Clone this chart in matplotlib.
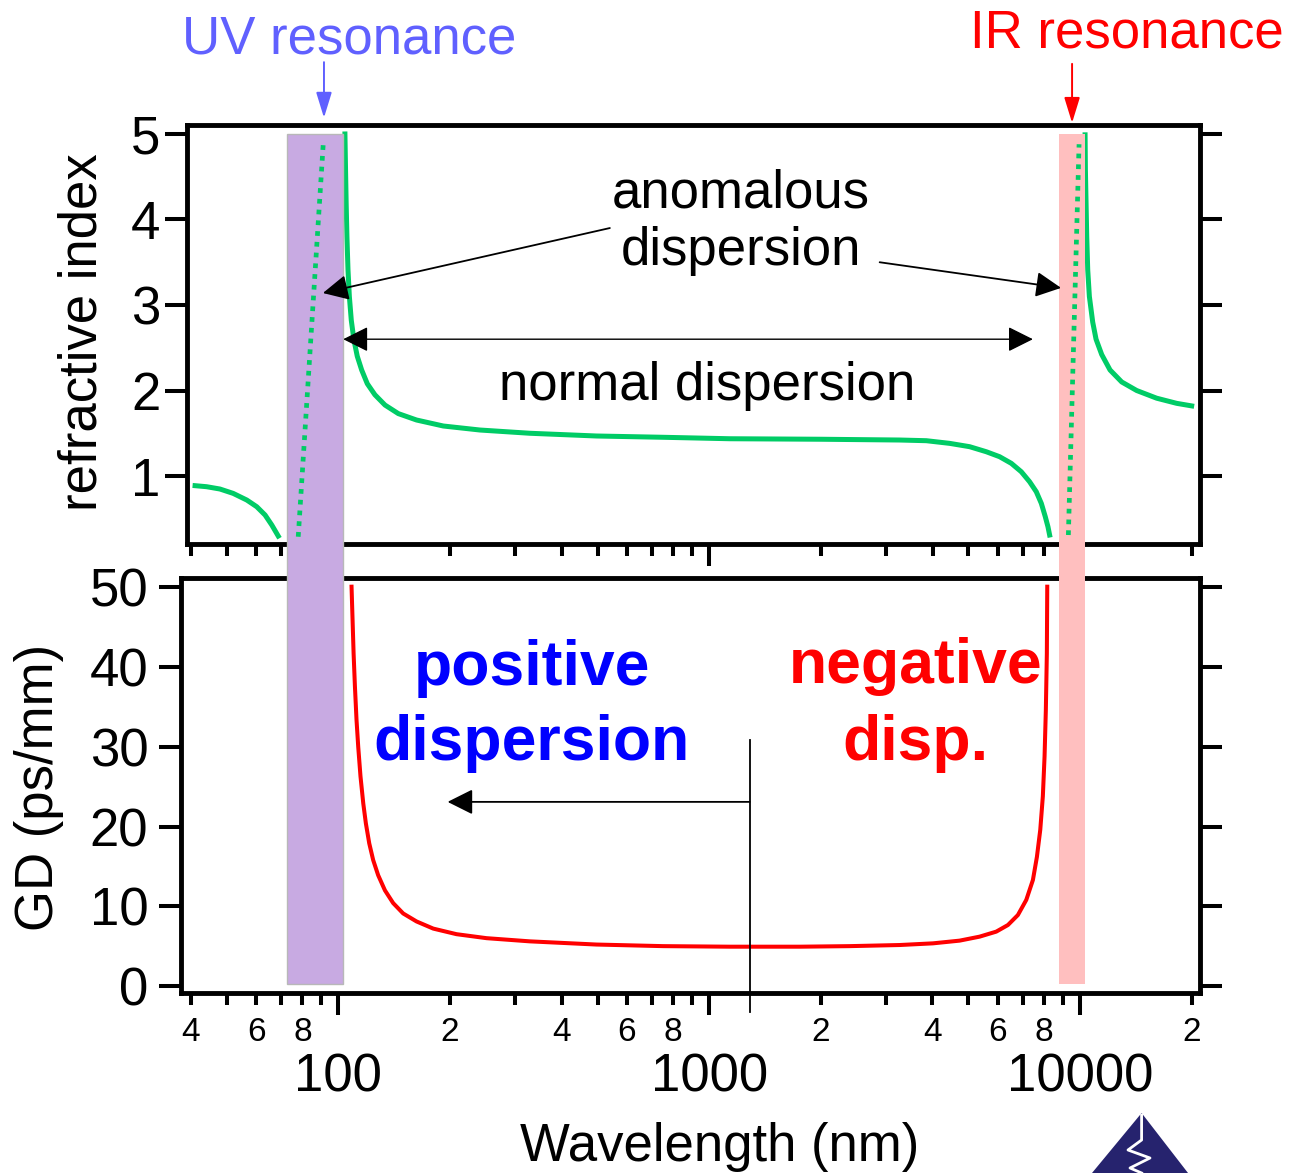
import math
import matplotlib
matplotlib.use('Agg')
import matplotlib.pyplot as plt
from matplotlib.patches import Rectangle, Polygon
from matplotlib.transforms import blended_transform_factory
from matplotlib.ticker import LogLocator, FuncFormatter, NullFormatter, FixedLocator

plt.rcParams['font.family'] = ['Liberation Sans', 'DejaVu Sans']

# ---------------- data ----------------
# refractive index, short-wavelength side of the UV resonance
n_left_wl = [41.05, 44.1, 47.9, 52.0, 56.6, 60.2, 63.4, 66.1, 68.8]
n_left = [0.887, 0.875, 0.848, 0.797, 0.719, 0.641, 0.544, 0.427, 0.298]
# refractive index between the resonances
n_mid_wl = [104.1, 104.5, 104.9, 105.4, 106.1, 107.0, 108.3, 110.1, 112.4, 115.5,
            119.6, 125.4, 133.5, 145.0, 162.4, 191.7, 240.7, 328.2, 496.6, 751,
            1136, 2000, 3262, 3850, 4448, 5037, 5586, 6067, 6526, 6942, 7310,
            7620, 7862, 8058, 8192, 8278]
n_mid = [5.0, 4.58, 4.19, 3.80, 3.41, 3.10, 2.82, 2.59, 2.40, 2.24,
         2.08, 1.95, 1.83, 1.73, 1.655, 1.585, 1.538, 1.50, 1.468, 1.453,
         1.436, 1.43, 1.421, 1.413, 1.382, 1.343, 1.284, 1.226, 1.148, 1.05, 0.933,
         0.816, 0.68, 0.524, 0.407, 0.31]
# refractive index, long-wavelength side of the IR resonance
n_right_wl = [10316, 10337, 10380, 10423, 10488, 10595, 10817, 11044, 11440, 12046,
              12951, 14212, 16093, 18220, 20000]
n_right = [4.99, 4.58, 4.19, 3.80, 3.41, 3.10, 2.80, 2.60, 2.42, 2.24,
           2.10, 2.0, 1.91, 1.85, 1.82]
# anomalous dispersion (dotted) inside the resonances
uv_anom_wl = [77.9, 91.0]
uv_anom_n = [0.29, 4.89]
ir_anom_wl = [9300, 9938]
ir_anom_n = [0.31, 4.88]
# group delay
gd_wl = [108.5, 109.2, 109.9, 110.8, 111.9, 113.1, 114.7, 116.7, 118.6, 121.1,
         124.1, 128.0, 133.5, 140.5, 149.5, 162.4, 180.2, 208.2, 250.8, 328.2,
         496.6, 750.9, 1136, 1754, 2391, 3262, 4012, 4733, 5359, 5943, 6390,
         6797, 7161, 7462, 7650, 7811, 7937, 8022, 8086, 8137, 8157]
gd = [50.1, 45.9, 41.7, 37.6, 33.4, 30.0, 26.3, 22.9, 20.4, 17.9,
      15.8, 13.9, 12.0, 10.4, 9.1, 8.1, 7.2, 6.5, 6.0, 5.6,
      5.2, 5.0, 4.93, 4.93, 5.0, 5.14, 5.35, 5.69, 6.19, 6.82, 7.65,
      8.9, 10.8, 13.3, 16.2, 19.6, 23.8, 28.8, 34.6, 41.7, 50.1]
# resonance bands (nm)
uv_band = [72.5, 102.6]
ir_band = [8794, 10315]
zero_disp_wl = 1286

n_ticks = [1, 2, 3, 4, 5]
gd_ticks = [0, 10, 20, 30, 40, 50]

# ---------------- styling ----------------
GREEN = '#00cc66'
RED = '#ff0000'
BIG = 38
W, H = 1304, 1173
fig = plt.figure(figsize=(W / 100, H / 100), dpi=100)


def frac(l, t, r, b):
    return [l / W, 1 - b / H, (r - l) / W, (b - t) / H]


ax1 = fig.add_axes(frac(186.7, 125, 1200, 544))
ax2 = fig.add_axes(frac(181, 578, 1200, 993))
ax1.set_zorder(1)

for ax in (ax1, ax2):
    ax.set_xscale('log')
    for s in ax.spines.values():
        s.set_linewidth(3.5)
    ax.xaxis.set_major_locator(LogLocator(base=10))
    ax.xaxis.set_minor_locator(LogLocator(base=10, subs=range(2, 10)))

ax1.set_xlim(38.97, 21060)
ax1.set_ylim(0.205, 5.105)
ax2.set_xlim(37.63, 21060)
ax2.set_ylim(-0.88, 51.19)

ax1.yaxis.set_major_locator(FixedLocator(n_ticks))
ax2.yaxis.set_major_locator(FixedLocator(gd_ticks))

ax1.tick_params(axis='y', which='major', direction='out', length=15.5, width=2.9,
                left=True, right=True, labelsize=BIG, pad=3.6)
ax2.tick_params(axis='y', which='major', direction='out', length=15.5, width=2.9,
                left=True, right=True, labelsize=BIG, pad=8)
for ax in (ax1, ax2):
    ax.tick_params(axis='x', which='both', direction='out', bottom=True, top=False, width=2.9)
    ax.tick_params(axis='x', which='major', length=15.5)
    ax.tick_params(axis='x', which='minor', length=8.6)
ax1.tick_params(axis='x', which='both', labelbottom=False)
ax2.tick_params(axis='x', which='major', labelsize=BIG, pad=27)
ax2.tick_params(axis='x', which='minor', labelsize=24, pad=9)


def major_fmt(v, pos):
    return '%d' % round(v)


def minor_fmt(v, pos):
    d = int(round(v / 10 ** math.floor(math.log10(v) + 1e-9)))
    return str(d) if d in (2, 4, 6, 8) else ''


ax2.xaxis.set_major_formatter(FuncFormatter(major_fmt))
ax2.xaxis.set_minor_formatter(FuncFormatter(minor_fmt))
ax1.xaxis.set_major_formatter(NullFormatter())
ax1.xaxis.set_minor_formatter(NullFormatter())

# ---------------- resonance bands spanning both panels ----------------
to_fig = fig.transFigure.inverted()
y_top = to_fig.transform(ax1.transData.transform((100, 5.0)))[1]
y_bot = to_fig.transform(ax2.transData.transform((100, 0.2)))[1]
btrans = blended_transform_factory(ax1.transData, fig.transFigure)
for band, fc, ec in [(uv_band, '#c8aae2', '#b8b8b8'), (ir_band, '#ffbfbf', 'none')]:
    ax1.add_patch(Rectangle((band[0], y_bot), band[1] - band[0], y_top - y_bot,
                            transform=btrans, facecolor=fc, edgecolor=ec, lw=1.0,
                            clip_on=False, zorder=2.6))

# ---------------- curves ----------------
for wl, nn in [(n_left_wl, n_left), (n_mid_wl, n_mid), (n_right_wl, n_right)]:
    ax1.plot(wl, nn, color=GREEN, lw=3.6, zorder=2, solid_joinstyle='round')
for wl, nn in [(uv_anom_wl, uv_anom_n), (ir_anom_wl, ir_anom_n)]:
    ax1.plot(wl, nn, color=GREEN, lw=3.4, linestyle=(0, (1.0, 1.28)),
             dash_capstyle='butt', zorder=3)
ax2.plot(gd_wl, gd, color=RED, lw=2.9, zorder=2, solid_joinstyle='round')

# ---------------- annotations, top panel ----------------
head = '-|>,head_length=0.78,head_width=0.39'
akw = dict(arrowstyle=head, mutation_scale=20, color='black', lw=1.3,
           shrinkA=0, shrinkB=0)
ax1.annotate('', xy=(90.8, 3.14), xytext=(539.4, 3.90), arrowprops=akw,
             annotation_clip=False)
ax1.annotate('', xy=(8888, 3.20), xytext=(2881, 3.50), arrowprops=akw,
             annotation_clip=False)
ax1.annotate('', xy=(103.0, 2.60), xytext=(7462, 2.60),
             arrowprops=dict(arrowstyle='<|-|>,head_length=0.78,head_width=0.39',
                             mutation_scale=20, color='black', lw=1.0,
                             shrinkA=0, shrinkB=0),
             annotation_clip=False, zorder=4)
ax1.text(1216, 4.146, 'anomalous', ha='center', va='baseline', fontsize=BIG)
ax1.text(1216, 3.468, 'dispersion', ha='center', va='baseline', fontsize=BIG)
ax1.text(985, 1.889, 'normal dispersion', ha='center', va='baseline', fontsize=BIG)

UVC = '#6060ff'
rkw = dict(arrowstyle='-|>,head_length=0.78,head_width=0.24', mutation_scale=20,
           lw=1.4, shrinkA=0, shrinkB=0)
ax1.text(106.7, 5.944, 'UV resonance', ha='center', va='baseline', fontsize=BIG,
         color=UVC, clip_on=False)
ax1.annotate('', xy=(91.4, 5.19), xytext=(91.4, 5.84),
             arrowprops=dict(color=UVC, **rkw), annotation_clip=False)
ax1.text(13386, 6.01, 'IR resonance', ha='center', va='baseline', fontsize=BIG,
         color=RED, clip_on=False)
ax1.annotate('', xy=(9516, 5.13), xytext=(9516, 5.82),
             arrowprops=dict(color=RED, **rkw), annotation_clip=False)

# ---------------- annotations, bottom panel ----------------
ax2.text(332.7, 37.77, 'positive', ha='center', va='baseline', fontsize=45,
         fontweight='bold', color='#0000ff')
ax2.text(332.7, 28.36, 'dispersion', ha='center', va='baseline', fontsize=45,
         fontweight='bold', color='#0000ff')
ax2.text(3603, 38.02, 'negative', ha='center', va='baseline', fontsize=45,
         fontweight='bold', color=RED)
ax2.text(3603, 28.36, 'disp.', ha='center', va='baseline', fontsize=45,
         fontweight='bold', color=RED)
ax2.plot([zero_disp_wl, zero_disp_wl], [30.9, -3.3], color='black', lw=1.3,
         clip_on=False, zorder=4)
ax2.annotate('', xy=(197, 23.1), xytext=(zero_disp_wl, 23.1), arrowprops=akw,
             annotation_clip=False)

# ---------------- axis titles ----------------
fig.text(97 / W, 1 - 332 / H, 'refractive index', rotation=90, rotation_mode='anchor',
         ha='center', va='baseline', fontsize=BIG)
fig.text(53 / W, 1 - 787.5 / H, 'GD (ps/mm)', rotation=90, rotation_mode='anchor',
         ha='center', va='baseline', fontsize=BIG)
fig.text(720 / W, 1 - 1161 / H, 'Wavelength (nm)', ha='center', va='baseline',
         fontsize=BIG)

# ---------------- small logo (bottom right) ----------------
tri = [(1092 / W, 0.0), (1141.6 / W, 1 - 1113 / H), (1188 / W, 0.0)]
fig.add_artist(Polygon(tri, closed=True, transform=fig.transFigure,
                       facecolor='#26236e', edgecolor='none'))
zig = [(1141.6 / W, 1 - 1115 / H), (1141.6 / W, 1 - 1140 / H), (1128 / W, 1 - 1150 / H),
       (1150 / W, 1 - 1158 / H), (1130 / W, 1 - 1168 / H), (1141.6 / W, 1 - 1173 / H)]
fig.add_artist(plt.Line2D([p[0] for p in zig], [p[1] for p in zig],
                          transform=fig.transFigure, color='white', lw=2))

fig.savefig('out.png', dpi=100)
